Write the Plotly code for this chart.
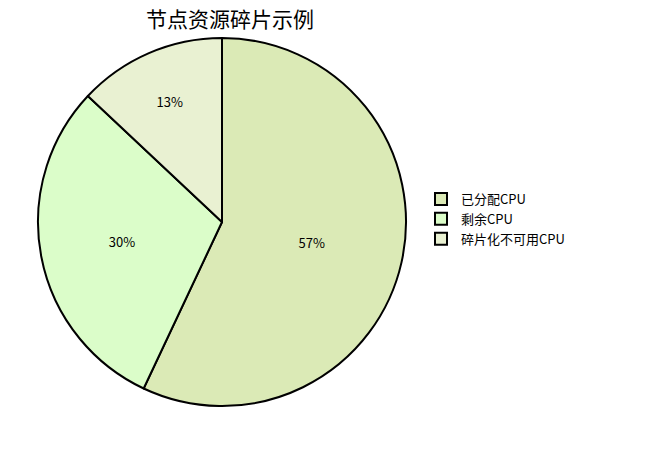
import plotly.graph_objects as go

labels = ["已分配CPU", "剩余CPU", "碎片化不可用CPU"]
values = [57, 30, 13]
colors = ["#dbeab6", "#dbfdc9", "#e9f1d2"]

fig = go.Figure(go.Pie(
    labels=labels, values=values, sort=False, direction="clockwise", rotation=0,
    marker=dict(colors=colors, line=dict(color="black", width=2)),
    textinfo="percent", textposition="inside", insidetextorientation="horizontal",
    textfont=dict(size=13, color="black", family="Noto Sans CJK SC"),
    domain=dict(x=[30/645, 398/645], y=[1-398/450, 1-30/450]),
))
fig.update_layout(
    width=645, height=450, margin=dict(l=0, r=0, t=0, b=0),
    paper_bgcolor="white", font=dict(family="Noto Sans CJK SC"),
    title=dict(text="节点资源碎片示例", x=222/645, xanchor="center", y=1-12/450, yanchor="middle",
               font=dict(size=21, color="black")),
    legend=dict(x=413/645, y=1-176/450, xanchor="left", yanchor="top",
                font=dict(size=13, color="black"), itemwidth=30, tracegroupgap=0),
)
fig.write_html("out.html")
